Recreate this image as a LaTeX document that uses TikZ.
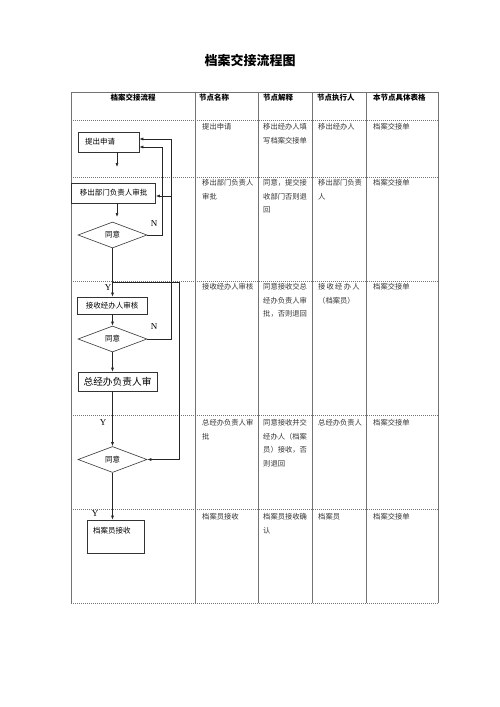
\documentclass[tikz,border=0pt]{standalone}
\usepackage{fontspec}
\setmainfont{Noto Sans CJK SC}
\newfontfamily\latinserif{Liberation Serif}
\usetikzlibrary{arrows.meta,shapes.geometric,positioning}

\begin{document}
\begin{tikzpicture}[
      x=1pt, y=-1pt,
      >={Latex[length=4pt,width=3pt]},
      Grid/.style={draw=black!55, line width=0.5pt},
      Dots/.style={draw=black!55, line width=0.6pt, dash pattern=on 0.8pt off 1.2pt},
      Head/.style={font=\fontsize{7.5}{9}\selectfont\bfseries, inner sep=0pt},
      Cell/.style={anchor=north west, inner sep=0pt, align=left, text=black!80,
        font=\fontsize{7.3}{13.5}\selectfont},
      StepBox/.style={draw=black!80, fill=white, line width=0.6pt, inner sep=0pt,
        font=\fontsize{7.5}{9}\selectfont},
      Decision/.style={diamond, draw=black!80, fill=white, line width=0.6pt, inner sep=0pt,
        minimum width=69pt, minimum height=26pt, font=\fontsize{7.5}{9}\selectfont},
      Flow/.style={draw=black!85, line width=0.6pt},
      Tag/.style={font=\latinserif\fontsize{9}{10}\selectfont, inner sep=0pt},
      ]
      \useasboundingbox (0,0) rectangle (500,707);

      \node[font=\fontsize{13}{15}\selectfont\bfseries] (title) at (250, 60) {档案交接流程图};

      % table
      \foreach \x in {71,195,258,312,366,438}
        \draw[Grid] (\x, 92) -- (\x, 603);
      \draw[Grid] (71, 92) -- (438, 92);
      \foreach \y in {120,177,281,415,509,603}
        \draw[Dots] (71, \y) -- (438, \y);

      \node[Head] (hflow) at (133, 98) {档案交接流程};
      \node[Head, anchor=west] (hname) at (199, 98) {节点名称};
      \node[Head, anchor=west] (hexpl) at (263, 98) {节点解释};
      \node[Head, anchor=west] (hexec) at (317, 98) {节点执行人};
      \node[Head, anchor=west] (hform) at (373, 98) {本节点具体表格};

      \node[Cell] (name1) at (202, 123.5) {提出申请};
      \node[Cell] (expl1) at (263, 123.5) {移出经办人填\\写档案交接单};
      \node[Cell] (exec1) at (318, 123.5) {移出经办人};
      \node[Cell] (form1) at (373, 123.5) {档案交接单};

      \node[Cell] (name2) at (202, 179.5) {移出部门负责人\\审批};
      \node[Cell] (expl2) at (263, 179.5) {同意，提交接\\收部门否则退\\回};
      \node[Cell] (exec2) at (318, 179.5) {移出部门负责\\人};
      \node[Cell] (form2) at (373, 179.5) {档案交接单};

      \node[Cell] (name3) at (202, 283.5) {接收经办人审核};
      \node[Cell] (expl3) at (263, 283.5) {同意接收交总\\经办负责人审\\批，否则退回};
      \node[Cell] (exec3) at (318, 283.5) {接\,收\,经\,办\,人\\（档案员）};
      \node[Cell] (form3) at (373, 283.5) {档案交接单};

      \node[Cell] (name4) at (202, 419.5) {总经办负责人审\\批};
      \node[Cell] (expl4) at (263, 419.5) {同意接收并交\\经办人（档案\\员）接收，否\\则退回};
      \node[Cell] (exec4) at (318, 419.5) {总经办负责人};
      \node[Cell] (form4) at (373, 419.5) {档案交接单};

      \node[Cell] (name5) at (202, 513.5) {档案员接收};
      \node[Cell] (expl5) at (263, 513.5) {档案员接收确\\认};
      \node[Cell] (exec5) at (318, 513.5) {档案员};
      \node[Cell] (form5) at (373, 513.5) {档案交接单};

      % flow chart
      \node[StepBox, minimum height=20pt, text width=47pt, inner xsep=7pt, align=left]
        (apply) at (108.5, 142) {提出申请};
      \node[StepBox, minimum width=84pt, minimum height=20pt] (deptok) at (113.5, 193) {移出部门负责人审批};
      \node[Decision] (agree1) at (112.5, 235) {同意};
      \node[StepBox, minimum width=70pt, minimum height=17pt] (check) at (112, 305.5) {接收经办人审核};
      \node[Decision] (agree2) at (112.5, 339) {同意};
      \node[StepBox, minimum width=79pt, minimum height=19pt, font=\fontsize{9.7}{11}\selectfont]
        (chief) at (117.5, 381.5) {总经办负责人审};
      \node[Decision] (agree3) at (112.5, 459.5) {同意};
      \node[StepBox, text width=45pt, inner xsep=6pt, align=left, text height=13.5pt, text depth=19.5pt]
        (receive) at (115.5, 536.5) {档案员接收};

      \coordinate (tip1) at (117, 167);
      \coordinate (tip2) at (117, 217);
      \coordinate (split) at (112.5, 282);
      \coordinate (rightY) at (179, 282);
      \coordinate (backN1) at (162, 0);
      \coordinate (backN2) at (171, 0);
      \coordinate (inLow) at ([yshift=-5pt]apply.east);
      \coordinate (inTop) at ([yshift=3pt]apply.east);
      \coordinate (inDept) at ([yshift=-3pt]deptok.east);

      \draw[Flow,->] (apply.south -| tip1) -- (tip1);
      \draw[Flow,->] (deptok.south -| tip2) -- (tip2);
      \draw[Flow,->] (agree1.south) -- (agree1.south |- check.north);
      \draw[Flow,->] (split) -- (rightY) |- (agree3.east);
      \draw[Flow,->] (agree1.east) -| (backN1 |- inLow) -- (inLow);
      \draw[Flow,->] (agree2.east) -| (backN2 |- inTop) -- (inTop);
      \draw[Flow,->] (inDept -| backN2) -- (inDept);
      \draw[Flow,->] (check.south -| agree2.north) -- (agree2.north);
      \draw[Flow,->] (agree2.south) -- (agree2.south |- chief.north);
      \draw[Flow,->] (chief.south -| agree3.north) -- (agree3.north);
      \draw[Flow,->] (agree3.south) -- (agree3.south |- receive.north);

      \node[Tag] (yes1) at (108, 288) {Y};
      \node[Tag] (yes2) at (103, 423) {Y};
      \node[Tag] (yes3) at (95, 514) {Y};
      \node[Tag] (no1) at (154, 224) {N};
      \node[Tag] (no2) at (154, 327) {N};
    \end{tikzpicture}
\end{document}
